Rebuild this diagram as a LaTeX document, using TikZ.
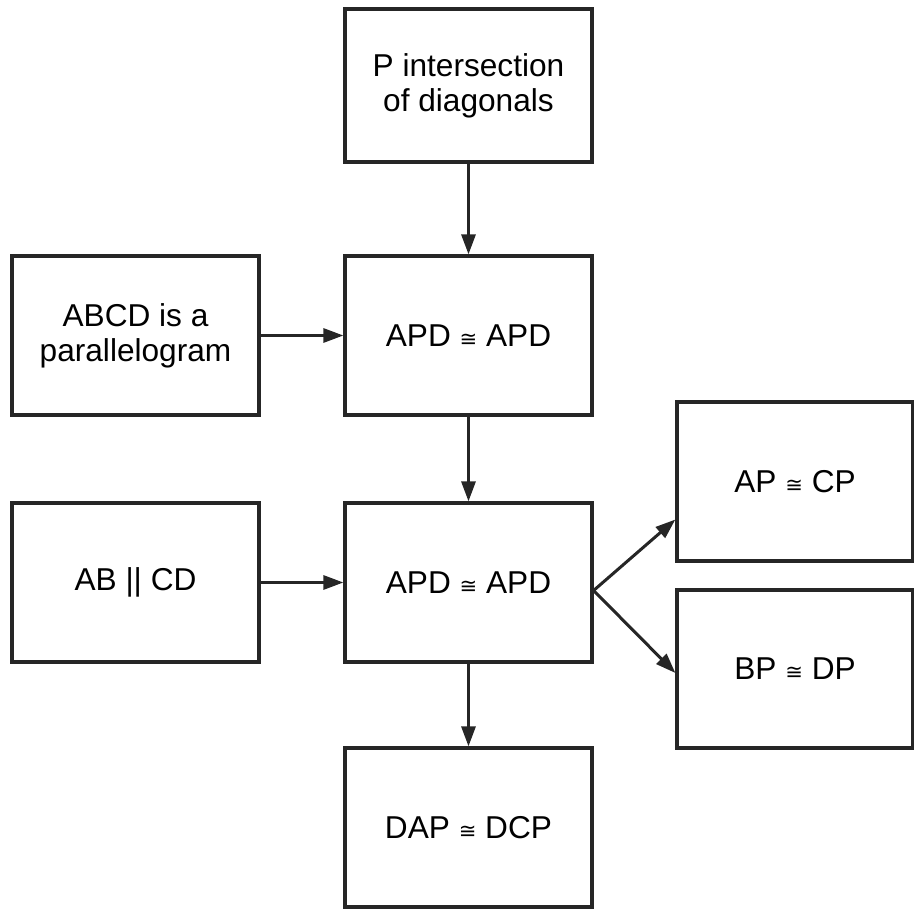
\documentclass[tikz,border=0pt]{standalone}
\usepackage{fontspec}
\setmainfont{Liberation Sans}
\newfontfamily\symfont{DejaVu Sans}
\usetikzlibrary{arrows.meta,calc}
\newcommand{\cngr}{{\symfont\fontsize{12}{12}\selectfont ≅}}

\begin{document}
\begin{tikzpicture}[
    x=0.02cm, y=-0.02cm,
    box/.style={draw=black!85, line width=0.065cm, minimum width=4.94cm, minimum height=3.18cm,
                inner sep=0pt, align=center, font=\fontsize{18}{20}\selectfont},
    arr/.style={-{Triangle[length=0.4cm,width=0.28cm]}, line width=0.06cm, draw=black!85, fill=black!85}
]
\useasboundingbox (0,0) rectangle (914,909);

% Kaestchen
\node[box, minimum height=3.06cm] (diag) at (468.5, 85.5) {P intersection\\of diagonals};
\node[box] (para) at (135.5, 335.5) {ABCD is a\\parallelogram};
\node[box] (apd1) at (468.5, 335.5) {APD \cngr{} APD};
\node[box] (par) at (135.5, 582.5) {AB || CD};
\node[box] (apd2) at (468.5, 582.5) {APD \cngr{} APD};
\node[box] (dap) at (468.5, 827.5) {DAP \cngr{} DCP};
\node[box, minimum width=4.72cm] (apcp) at (795, 481.5) {AP \cngr{} CP};
\node[box, minimum width=4.72cm, minimum height=3.16cm] (bpdp) at (795, 669) {BP \cngr{} DP};

% Pfeile
\draw[arr] (diag) -- (apd1);
\draw[arr] (para) -- (apd1);
\draw[arr] (apd1) -- (apd2);
\draw[arr] (par) -- (apd2);
\draw[arr] (apd2) -- (dap);
\draw[arr] ($(apd2.east)+(0,8)$) -- ($(apcp.west)+(0,38)$);
\draw[arr] ($(apd2.east)+(0,8)$) -- ($(bpdp.west)+(0,4)$);

\end{tikzpicture}
\end{document}
